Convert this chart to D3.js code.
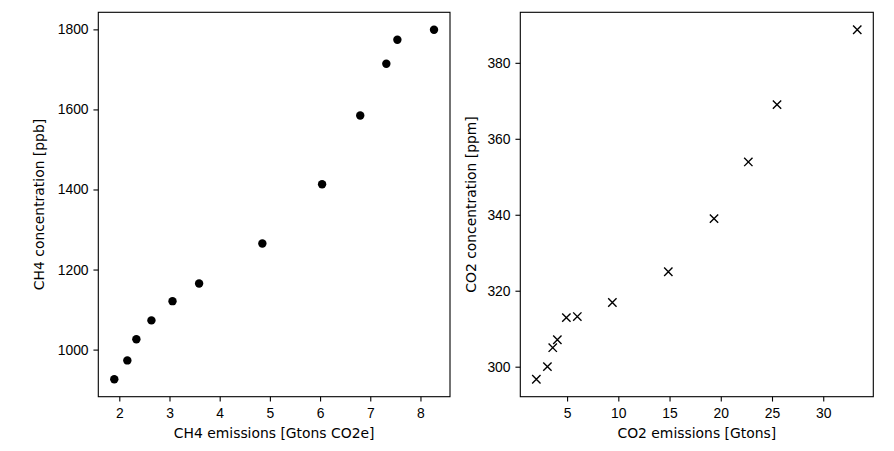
<!DOCTYPE html>
<html>
<head>
<meta charset="utf-8">
<script src="https://cdn.jsdelivr.net/npm/d3@7.9.0/dist/d3.min.js"></script>
<style>
  body { margin: 0; background: #fff; }
  svg { display: block; font-family: 'DejaVu Sans', sans-serif; }
  .tick text { font-size: 13.9px; fill: #000; }
  .tick line { stroke: #000; stroke-width: 1.1px; }
  .axis path.domain { display: none; }
  .label { font-size: 13.9px; fill: #000; }
</style>
</head>
<body>
<svg id="chart" width="894" height="451"></svg>
<script>
// CH4: emissions [Gtons CO2e] vs concentration [ppb]
const ch4Emissions = [1.90, 2.16, 2.34, 2.64, 3.06, 3.59, 4.85, 6.04, 6.80, 7.32, 7.54, 8.27];
const ch4Concentration = [926, 973, 1026, 1073, 1121, 1165, 1265, 1413, 1585, 1714, 1774, 1799];

// CO2: emissions [Gtons] vs concentration [ppm]
const co2Emissions = [2.00, 3.08, 3.60, 4.05, 4.93, 6.00, 9.42, 14.88, 19.34, 22.69, 25.49, 33.32];
const co2Concentration = [296.7, 300.0, 305.0, 307.1, 312.9, 313.2, 316.9, 325.0, 339.0, 353.9, 369.0, 388.7];

const ch4XTicks = [2, 3, 4, 5, 6, 7, 8];
const ch4YTicks = [1000, 1200, 1400, 1600, 1800];
const co2XTicks = [5, 10, 15, 20, 25, 30];
const co2YTicks = [300, 320, 340, 360, 380];

const svg = d3.select('#chart');
const plotTop = 12.3, plotBottom = 396.7;
const tickLen = 4.86, tickPad = 4.86;

// matplotlib-style 5% autoscale margins
function padded(values) {
  const [lo, hi] = d3.extent(values);
  const m = (hi - lo) * 0.05;
  return [lo - m, hi + m];
}

function drawPanel(opts) {
  const { left, right, xs, ys, xTicks, yTicks, xLabel, yLabel, yLabelX, marker } = opts;

  const x = d3.scaleLinear().domain(padded(xs)).range([left, right]);
  const y = d3.scaleLinear().domain(padded(ys)).range([plotBottom, plotTop]);

  svg.append('g')
    .attr('class', 'axis')
    .attr('transform', `translate(0,${plotBottom})`)
    .call(d3.axisBottom(x).tickValues(xTicks).tickFormat(d3.format('d'))
      .tickSize(tickLen).tickPadding(tickPad))
    .selectAll('.tick text')
    .attr('dy', '0.82em');

  svg.append('g')
    .attr('class', 'axis')
    .attr('transform', `translate(${left},0)`)
    .call(d3.axisLeft(y).tickValues(yTicks).tickFormat(d3.format('d'))
      .tickSize(tickLen).tickPadding(tickPad));

  const pts = xs.map((d, i) => [d, ys[i]]);
  const g = svg.append('g');

  if (marker === 'o') {
    g.selectAll('circle')
      .data(pts)
      .join('circle')
      .attr('cx', (d) => x(d[0]))
      .attr('cy', (d) => y(d[1]))
      .attr('r', 4.2)
      .attr('fill', '#000');
  } else {
    const s = 4.17;
    g.selectAll('path')
      .data(pts)
      .join('path')
      .attr('d', (d) => {
        const cx = x(d[0]), cy = y(d[1]);
        return `M${cx - s},${cy - s}L${cx + s},${cy + s}M${cx - s},${cy + s}L${cx + s},${cy - s}`;
      })
      .attr('stroke', '#000')
      .attr('stroke-width', 1.39)
      .attr('fill', 'none');
  }

  // frame
  svg.append('rect')
    .attr('x', left)
    .attr('y', plotTop)
    .attr('width', right - left)
    .attr('height', plotBottom - plotTop)
    .attr('fill', 'none')
    .attr('stroke', '#000')
    .attr('stroke-width', 1.1);

  svg.append('text')
    .attr('class', 'label')
    .attr('x', (left + right) / 2)
    .attr('y', 438)
    .attr('text-anchor', 'middle')
    .text(xLabel);

  svg.append('text')
    .attr('class', 'label')
    .attr('transform', `translate(${yLabelX},${(plotTop + plotBottom) / 2}) rotate(-90)`)
    .attr('text-anchor', 'middle')
    .text(yLabel);
}

drawPanel({
  left: 98.3, right: 450,
  xs: ch4Emissions, ys: ch4Concentration,
  xTicks: ch4XTicks, yTicks: ch4YTicks,
  xLabel: 'CH4 emissions [Gtons CO2e]',
  yLabel: 'CH4 concentration [ppb]',
  yLabelX: 44,
  marker: 'o',
});

drawPanel({
  left: 520.3, right: 873.3,
  xs: co2Emissions, ys: co2Concentration,
  xTicks: co2XTicks, yTicks: co2YTicks,
  xLabel: 'CO2 emissions [Gtons]',
  yLabel: 'CO2 concentration [ppm]',
  yLabelX: 475.5,
  marker: 'x',
});
</script>
</body>
</html>
